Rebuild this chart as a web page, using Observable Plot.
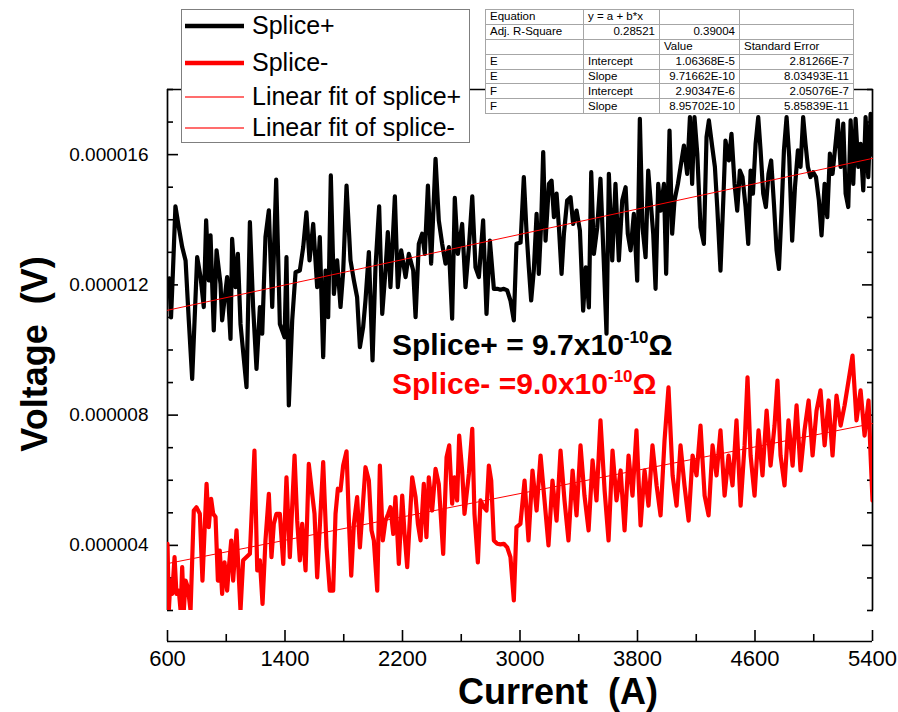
<!DOCTYPE html>
<html><head><meta charset="utf-8">
<script src="https://cdn.jsdelivr.net/npm/d3@7"></script>
<script src="https://cdn.jsdelivr.net/npm/@observablehq/plot@0.6"></script>
<style>
body{margin:0;background:#fff;}
#wrap{position:relative;width:898px;height:712px;font-family:"Liberation Sans",Arial,sans-serif;background:#fff;overflow:hidden;}
#legend{position:absolute;left:181px;top:9px;width:287px;height:132px;border:1px solid #7f7f7f;background:#fff;z-index:5;}
#legend svg{position:absolute;left:0;top:0;}
#legend .lt{position:absolute;left:70px;font-size:25px;line-height:25px;color:#000;white-space:nowrap;}
#fit{position:absolute;left:485px;top:9px;border-collapse:collapse;background:#fff;font-size:11.5px;border:1px solid #8c8c8c;z-index:5;}
#fit td{border:1px solid #a6a6a6;height:13.9px;padding:0 4px;line-height:13px;white-space:nowrap;}
.ann{position:absolute;font-weight:bold;font-size:30px;line-height:30px;white-space:nowrap;z-index:4;}
.ann sup{font-size:17px;vertical-align:12px;line-height:0;}
.ttl{position:absolute;font-weight:bold;font-size:36px;white-space:pre;}
</style></head><body><div id="wrap"></div>
<script>
// ---------- data (current in A, voltage in microvolts) ----------
const splicePlusCurrent = [600,612,624,636,654,677,700,723,745,768,802,825,847,863,881,893,915,934,961,972,1006,1029,1040,1063,1079,1097,1138,1161,1183,1206,1229,1245,1267,1290,1313,1340,1365,1397,1410,1426,1449,1472,1501,1524,1546,1567,1592,1619,1637,1660,1676,1694,1712,1733,1755,1778,1796,1819,1846,1869,1891,1910,1932,1948,1971,1996,2016,2041,2062,2084,2100,2118,2148,2168,2191,2221,2243,2273,2289,2311,2334,2352,2373,2395,2425,2447,2470,2493,2516,2538,2556,2577,2606,2629,2652,2675,2697,2720,2749,2772,2795,2822,2845,2867,2890,2913,2935,2958,2976,
3004,3026,3044,3060,3076,3094,3113,3128,3144,3158,3174,3197,3215,3231,3249,3265,3283,3299,3321,3344,3362,3385,3408,3430,3448,3469,3485,3503,3526,3548,3571,3589,3605,3628,3650,3673,3696,3719,3734,3753,3775,3798,3816,3834,3855,3873,3889,3907,3923,3941,3957,3980,3995,4018,4036,4052,4075,4093,4116,4138,4157,4172,4188,4207,4229,4252,4270,4286,4309,4327,4343,4365,4384,4399,4422,4440,4461,4479,4497,4515,4536,4554,4570,4586,4604,4622,4638,4656,4674,4692,4710,4729,4747,4763,4781,4797,4815,4833,4853,4872,4892,4910,4928,4944,4960,4978,4996,5015,5035,5053,5074,5092,5110,5128,5144,5164,5183,5201,5217,5235,5251,5269,5285,5303,5319,5337,5353,5371,5387,5400];
const splicePlusMicroV = [11.9,12.2,11.0,12.3,14.41,13.77,13.16,12.75,10.91,9.11,12.85,12.24,11.32,13.98,12.14,13.52,10.60,13.06,12.03,10.91,12.24,10.34,13.41,11.93,12.95,10.80,8.86,13.93,11.32,9.42,11.32,10.50,13.47,14.29,11.32,15.23,10.80,10.39,12.85,8.30,10.91,12.39,12.44,13.16,14.23,12.75,13.87,11.93,13.47,9.78,12.44,11.01,15.36,11.72,12.75,11.32,12.39,15.05,12.75,12.14,11.62,10.09,10.70,11.52,13.01,9.68,12.54,14.41,11.11,12.44,13.62,11.93,14.72,11.93,13.06,12.24,12.95,12.44,11.01,13.26,13.57,12.95,15.05,12.65,15.87,13.98,13.26,12.65,13.16,10.96,14.67,12.95,13.87,11.93,13.16,14.72,12.54,12.24,13.98,11.11,13.36,11.88,11.88,11.85,11.88,11.83,11.52,10.91,13.26,
13.3,15.31,13.67,12.54,11.52,12.44,14.18,12.34,13.87,16.08,13.36,15.10,15.20,14.08,14.80,13.77,12.34,13.57,14.59,14.69,13.87,14.28,13.67,11.21,12.54,11.31,15.46,12.95,13.77,15.26,12.65,10.50,15.41,12.75,15.10,12.75,14.59,15.00,13.57,13.06,14.18,12.13,17.10,13.77,12.85,15.51,14.59,13.57,11.88,15.10,14.28,15.10,12.34,16.74,13.57,14.59,15.10,15.62,16.28,15.41,17.15,15.10,17.15,16.03,13.77,13.26,16.54,17.05,16.23,15.62,14.39,12.44,14.59,16.43,15.82,16.64,15.10,14.28,15.51,15.31,14.39,13.26,15.51,14.80,16.33,17.15,16.13,14.80,14.39,15.41,15.82,14.49,13.06,12.49,14.28,16.13,17.15,15.92,13.36,15.00,16.13,15.62,17.15,16.33,15.62,15.31,15.46,15.31,14.59,13.52,15.10,14.08,16.03,15.41,16.13,17.05,15.62,16.95,14.80,14.39,17.05,15.10,17.10,15.62,16.33,14.90,17.15,15.31,17.25,16.0];

const spliceMinusCurrent = [600,609,620,632,648,661,677,689,700,711,723,738,757,779,797,820,838,866,881,897,911,927,943,956,972,988,1006,1018,1034,1047,1070,1097,1115,1138,1161,1192,1211,1229,1247,1267,1290,1308,1324,1342,1365,1388,1410,1433,1465,1483,1501,1517,1540,1562,1585,1601,1619,1660,1683,1705,1728,1744,1760,1778,1796,1819,1835,1851,1869,1891,1910,1926,1948,1971,1989,2005,2028,2046,2066,2084,2103,2118,2137,2152,2175,2198,2214,2232,2266,2289,2305,2323,2345,2363,2379,2402,2425,2447,2477,2500,2518,2538,2554,2572,2586,2606,2622,2652,2675,2690,2713,2731,2754,2772,2788,2804,2822,2845,2867,2890,2913,2935,2958,2976,3003,
3031,3058,3085,3113,3140,3167,3194,3221,3249,3276,3303,3330,3358,3385,3412,3439,3467,3494,3521,3548,3576,3603,3630,3657,3685,3712,3739,3766,3793,3821,3848,3875,3902,3930,3957,3984,4011,4039,4066,4093,4120,4148,4175,4202,4229,4257,4284,4311,4338,4365,4393,4420,4447,4474,4502,4529,4549,4570,4597,4624,4651,4679,4706,4733,4753,4774,4801,4828,4856,4883,4910,4937,4965,4992,5019,5046,5074,5101,5128,5155,5183,5210,5237,5264,5291,5319,5346,5373,5387,5400];
const spliceMinusMicroV = [4.05,2.00,2.92,2.51,3.64,2.51,2.61,2.00,3.33,2.00,2.92,2.72,2.00,5.07,5.17,4.97,2.92,5.89,4.56,5.43,4.97,4.87,2.92,3.84,2.51,3.48,2.61,3.33,4.15,2.92,4.46,2.00,3.54,3.64,3.74,6.91,3.23,3.54,2.20,4.15,5.58,3.64,4.66,4.97,4.97,3.43,6.09,3.64,6.76,4.76,3.54,4.66,3.23,6.50,5.58,4.97,3.02,6.56,3.94,2.61,2.61,4.97,5.74,5.69,6.45,6.89,4.76,3.07,4.66,5.48,3.94,4.97,6.40,5.99,4.46,4.15,2.61,6.45,4.15,4.76,4.97,5.17,4.35,5.48,3.43,5.53,4.35,3.33,6.09,5.48,4.66,4.15,5.89,4.25,6.09,5.07,6.35,5.89,3.74,6.71,7.07,5.28,6.09,5.38,7.37,6.30,4.97,6.20,7.58,4.97,3.48,5.38,5.17,5.07,6.45,5.99,4.15,4.05,4.03,4.05,3.94,3.64,2.31,4.56,4.66,
5.99,4.15,6.30,5.07,6.76,5.38,4.00,5.99,4.76,6.91,5.38,4.15,6.30,4.92,7.07,5.53,4.46,6.61,5.38,7.84,5.69,4.15,6.91,5.38,6.30,4.46,6.76,5.53,7.53,4.61,6.30,5.22,7.07,5.84,4.92,7.22,8.85,6.15,5.22,7.07,5.84,4.76,6.76,6.15,7.68,5.53,4.92,7.07,6.15,7.53,5.53,6.76,5.84,7.84,5.22,7.07,9.16,6.76,5.53,7.53,6.15,8.14,6.45,7.68,9.06,6.76,5.84,7.84,6.45,8.30,6.30,7.53,8.45,6.76,8.14,8.76,7.07,8.45,6.76,8.60,7.68,8.30,9.06,9.83,7.84,8.76,7.37,8.45,6.76,5.38];

// linear fits (from the fit table): E = Splice+, F = Splice-
const fitNames = ["E", "F"];
const fitIntercepts = [1.06368e-5, 2.90347e-6];
const fitInterceptErrors = [2.81266e-7, 2.05076e-7];
const fitSlopes = [9.71662e-10, 8.95702e-10];
const fitSlopeErrors = [8.03493e-11, 5.85839e-11];
const fitAdjR2 = [0.28521, 0.39004];

// axes ticks
const xMajorTicks = [600, 1400, 2200, 3000, 3800, 4600, 5400];
const xMinorTicks = [1000, 1800, 2600, 3400, 4200, 5000];
const yMajorTicks = [4e-6, 8e-6, 12e-6, 16e-6];
const yMinorTicks = [2e-6, 3e-6, 5e-6, 6e-6, 7e-6, 9e-6, 10e-6, 11e-6, 13e-6, 14e-6, 15e-6, 17e-6, 18e-6];
const xDomain = [600, 5400];
const yDomain = [2e-6, 18e-6];

// ---------- build ----------
const plusData = splicePlusCurrent.map((c, i) => ({current: c, voltage: splicePlusMicroV[i] * 1e-6}));
const minusData = spliceMinusCurrent.map((c, i) => ({current: c, voltage: spliceMinusMicroV[i] * 1e-6}));
const fitLine = k => xDomain.map(c => ({current: c, voltage: fitIntercepts[k] + fitSlopes[k] * c}));

const font = '"Liberation Sans", Arial, sans-serif';
const chart = Plot.plot({
  width: 898, height: 712,
  marginLeft: 167, marginRight: 26, marginTop: 89, marginBottom: 102,
  x: {domain: xDomain},
  y: {domain: yDomain},
  style: {fontFamily: font, background: "transparent", color: "black", overflow: "visible"},
  marks: [
    Plot.ruleX(xDomain, {stroke: "black", strokeWidth: 1.7}),
    Plot.ruleY([yDomain[1]], {stroke: "black", strokeWidth: 1.7}),
    Plot.ruleY([yDomain[0]], {stroke: "black", strokeWidth: 1.7, dy: 31}),
    Plot.axisY(yMinorTicks, {anchor: "left", tickSize: -6, fill: "none", label: null, strokeWidth: 1.6}),
    Plot.axisY(yMajorTicks, {anchor: "left", tickSize: -11, fill: "none", label: null, strokeWidth: 1.6}),
    Plot.axisY(yMajorTicks, {anchor: "left", tickSize: 0, tickPadding: 19, tickFormat: d => d.toFixed(6), fontSize: 19, label: null}),
    Plot.axisY(yMinorTicks, {anchor: "right", tickSize: -6, fill: "none", label: null, strokeWidth: 1.6}),
    Plot.axisY(yMajorTicks, {anchor: "right", tickSize: -11, fill: "none", label: null, strokeWidth: 1.6}),
    Plot.axisX(xMinorTicks, {anchor: "bottom", tickSize: -7, dy: 31, fill: "none", label: null, strokeWidth: 1.6}),
    Plot.axisX(xMajorTicks, {anchor: "bottom", tickSize: -11, dy: 31, fill: "none", label: null, strokeWidth: 1.6}),
    Plot.axisX(xMajorTicks, {anchor: "bottom", tickSize: 0, dy: 31, tickPadding: 9, tickFormat: d => String(d), fontSize: 22, label: null}),
    Plot.line(plusData, {x: "current", y: "voltage", stroke: "black", strokeWidth: 4.2, strokeLinejoin: "round", strokeLinecap: "round", clip: true}),
    Plot.line(minusData, {x: "current", y: "voltage", stroke: "#ff0000", strokeWidth: 4.2, strokeLinejoin: "round", strokeLinecap: "round", clip: true}),
    Plot.line(fitLine(0), {x: "current", y: "voltage", stroke: "#ff0000", strokeWidth: 1}),
    Plot.line(fitLine(1), {x: "current", y: "voltage", stroke: "#ff0000", strokeWidth: 1})
  ]
});

const wrap = document.getElementById("wrap");
chart.style.position = "absolute"; chart.style.left = "0"; chart.style.top = "0";
wrap.appendChild(chart);

// legend
const legendItems = [
  {label: "Splice+", color: "#000000", w: 4.5, y: 16},
  {label: "Splice-", color: "#ff0000", w: 4.5, y: 53},
  {label: "Linear fit of splice+", color: "#ff2020", w: 1.3, y: 87},
  {label: "Linear fit of splice-", color: "#ff2020", w: 1.3, y: 118}
];
const legend = document.createElement("div");
legend.id = "legend";
const NS = "http://www.w3.org/2000/svg";
const lsvg = document.createElementNS(NS, "svg");
lsvg.setAttribute("width", 287); lsvg.setAttribute("height", 132);
legendItems.forEach(it => {
  const ln = document.createElementNS(NS, "rect");
  ln.setAttribute("x", 3); ln.setAttribute("width", 59);
  ln.setAttribute("y", it.y - it.w / 2); ln.setAttribute("height", it.w);
  ln.setAttribute("fill", it.color);
  lsvg.appendChild(ln);
  const t = document.createElement("div");
  t.className = "lt";
  t.style.top = (it.y - 13) + "px";
  t.textContent = it.label;
  legend.appendChild(t);
});
legend.appendChild(lsvg);
wrap.appendChild(legend);

// fit table
const fmt = v => {
  const e = Math.floor(Math.log10(Math.abs(v)));
  const m = v / Math.pow(10, e);
  return (+m.toFixed(5)).toString() + "E" + e;
};
const rows = [
  [["Equation", "l"], ["y = a + b*x", "l"], ["", "l"], ["", "l"]],
  [["Adj. R-Square", "l"], [fitAdjR2[0].toFixed(5), "r"], [fitAdjR2[1].toFixed(5), "r"], ["", "l"]],
  [["", "l"], ["", "l"], ["Value", "l"], ["Standard Error", "l"]],
  [[fitNames[0], "l"], ["Intercept", "l"], [fmt(fitIntercepts[0]), "r"], [fmt(fitInterceptErrors[0]), "r"]],
  [[fitNames[0], "l"], ["Slope", "l"], [fmt(fitSlopes[0]), "r"], [fmt(fitSlopeErrors[0]), "r"]],
  [[fitNames[1], "l"], ["Intercept", "l"], [fmt(fitIntercepts[1]), "r"], [fmt(fitInterceptErrors[1]), "r"]],
  [[fitNames[1], "l"], ["Slope", "l"], [fmt(fitSlopes[1]), "r"], [fmt(fitSlopeErrors[1]), "r"]]
];
const colW = [98, 76, 80, 114];
const table = document.createElement("table");
table.id = "fit";
rows.forEach(r => {
  const tr = document.createElement("tr");
  r.forEach(([txt, al], j) => {
    const td = document.createElement("td");
    td.textContent = txt;
    td.style.textAlign = al === "r" ? "right" : "left";
    td.style.width = (colW[j] - 9) + "px";
    tr.appendChild(td);
  });
  table.appendChild(tr);
});
wrap.appendChild(table);

// annotations
const a1 = document.createElement("div");
a1.className = "ann"; a1.style.left = "392px"; a1.style.top = "330px"; a1.style.color = "#000";
a1.innerHTML = "Splice+ = 9.7x10<sup>-10</sup>&Omega;";
wrap.appendChild(a1);
const a2 = document.createElement("div");
a2.className = "ann"; a2.style.left = "392px"; a2.style.top = "369px"; a2.style.color = "#ff0000";
a2.innerHTML = "Splice- =9.0x10<sup>-10</sup>&Omega;";
wrap.appendChild(a2);

// axis titles
const yt = document.createElement("div");
yt.className = "ttl"; yt.textContent = "Voltage  (V)";
yt.style.left = "35px"; yt.style.top = "354px"; yt.style.transform = "translate(-50%,-50%) rotate(-90deg)";
wrap.appendChild(yt);
const xt = document.createElement("div");
xt.className = "ttl"; xt.textContent = "Current  (A)";
xt.style.left = "558px"; xt.style.top = "692px"; xt.style.transform = "translate(-50%,-50%)";
wrap.appendChild(xt);
</script>
</body></html>
